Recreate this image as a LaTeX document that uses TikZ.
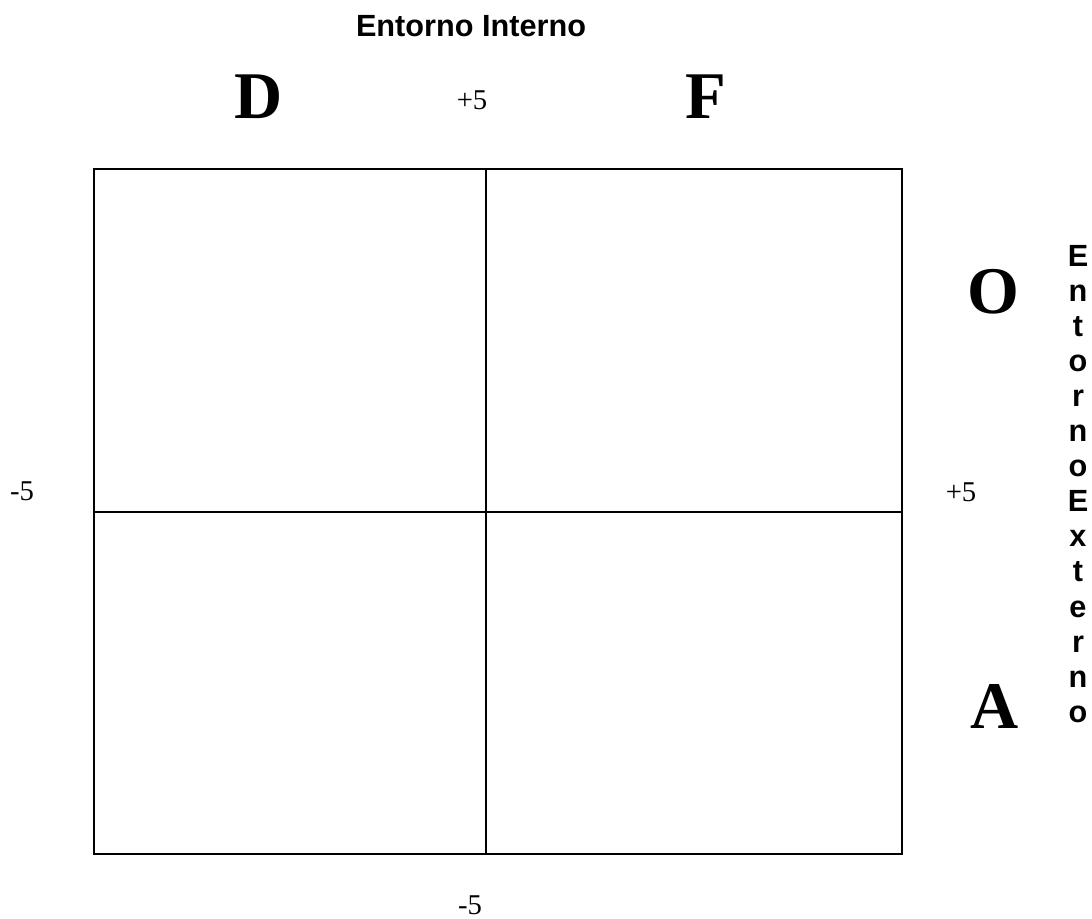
\documentclass[tikz,border=0pt]{standalone}
\usepackage{fontspec}
\setmainfont{Liberation Serif}
\newfontfamily\headsans{Liberation Sans}
\tikzset{
  gridline/.style={line width=1.5pt, draw=black},
  heading/.style={font=\headsans\bfseries\fontsize{23}{27}\selectfont, inner sep=0pt},
  quadletter/.style={font=\bfseries\fontsize{50}{60}\selectfont, inner sep=0pt, anchor=base},
  scalelabel/.style={font=\fontsize{21.5}{26}\selectfont, inner sep=0pt, anchor=base},
}
\begin{document}
\begin{tikzpicture}[x=0.75pt, y=-0.75pt]
  \useasboundingbox (0,0) rectangle (1092,919);

  % quadrant frame
  \coordinate (tl) at (94,169);
  \coordinate (br) at (902,854);
  \coordinate (tm) at (486,169);
  \coordinate (bm) at (486,854);
  \coordinate (ml) at (94,512);
  \coordinate (mr) at (902,512);
  \draw[gridline] (tl) rectangle (br);
  \draw[gridline] (tm) -- (bm);
  \draw[gridline] (ml) -- (mr);

  % axis headings
  \node[heading, anchor=base] (interno) at (471,37) {Entorno Interno};
  \node[heading, anchor=north, align=center, font=\headsans\bfseries\fontsize{23}{26.3}\selectfont]
    (externo) at (1078,245) {E\\n\\t\\o\\r\\n\\o\\E\\x\\t\\e\\r\\n\\o};

  % quadrant letters
  \node[quadletter] (D) at (259,119) {D};
  \node[quadletter] (F) at (706,119) {F};
  \node[quadletter] (O) at (993,314) {O};
  \node[quadletter] (A) at (995,728) {A};

  % scale marks
  \node[scalelabel] (top5) at (472,110) {+5};
  \node[scalelabel] (right5) at (961,502) {+5};
  \node[scalelabel] (left5) at (22,501) {-5};
  \node[scalelabel] (bottom5) at (470,914) {-5};
\end{tikzpicture}
\end{document}
